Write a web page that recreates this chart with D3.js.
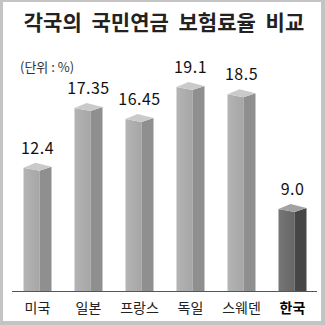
<!DOCTYPE html>
<html>
<head>
<meta charset="utf-8">
<script src="https://cdn.jsdelivr.net/npm/d3@7"></script>
<style>
  body { margin: 0; background: #fff; }
  svg text { font-family: "Noto Sans CJK KR", "Noto Sans", sans-serif; }
</style>
</head>
<body>
<script>
// 각국의 국민연금 보험료율 비교
var countries = ["미국", "일본", "프랑스", "독일", "스웨덴", "한국"];
var rates = [12.4, 17.35, 16.45, 19.1, 18.5, 9.0];
var rateLabels = ["12.4", "17.35", "16.45", "19.1", "18.5", "9.0"];
var highlight = "한국";

var width = 325, height = 325;
var baseY = 291;

var svg = d3.select("body").append("svg")
  .attr("width", width)
  .attr("height", height);

// frame
svg.append("rect")
  .attr("x", 0).attr("y", 0)
  .attr("width", width).attr("height", height)
  .style("fill", "#c4c4c4");
svg.append("rect")
  .attr("x", 3).attr("y", 2)
  .attr("width", width - 7).attr("height", height - 6)
  .style("fill", "#fff");

var x = d3.scaleBand()
  .domain(countries)
  .range([12, 318])
  .paddingInner(0)
  .paddingOuter(0);

var y = d3.scaleLinear()
  .domain([1.8, 20])
  .range([baseY, 71]);

var defs = svg.append("defs");
var gLight = defs.append("linearGradient").attr("id", "frontLight");
gLight.append("stop").attr("offset", "0%").attr("stop-color", "#b4b4b4");
gLight.append("stop").attr("offset", "100%").attr("stop-color", "#a6a6a6");
var gDark = defs.append("linearGradient").attr("id", "frontDark");
gDark.append("stop").attr("offset", "0%").attr("stop-color", "#767676");
gDark.append("stop").attr("offset", "100%").attr("stop-color", "#666666");

var frontW = 16, sideW = 12;

var bars = svg.append("g").selectAll("g")
  .data(countries)
  .enter()
  .append("g")
  .attr("class", "bar");

function barLeft(d) { return x(d) + x.bandwidth() / 2 - (frontW + sideW) / 2; }
function barTop(i) { return y(rates[i]); }

// front face
bars.append("path")
  .attr("d", function(d, i) {
    var a = barLeft(d), t = barTop(i);
    return "M" + a + "," + (t + 5) + "L" + (a + frontW) + "," + (t + 8) +
      "L" + (a + frontW) + "," + baseY + "L" + a + "," + baseY + "Z";
  })
  .style("fill", d => d === highlight ? "url(#frontDark)" : "url(#frontLight)");

// side face
bars.append("path")
  .attr("d", function(d, i) {
    var a = barLeft(d) + frontW, t = barTop(i);
    return "M" + a + "," + (t + 8) + "L" + (a + sideW) + "," + (t + 4) +
      "L" + (a + sideW) + "," + baseY + "L" + a + "," + baseY + "Z";
  })
  .style("fill", d => d === highlight ? "#464646" : "#8f8f8f");

// cap
bars.append("path")
  .attr("d", function(d, i) {
    var a = barLeft(d), t = barTop(i);
    return "M" + a + "," + (t + 5) + "L" + (a + 12) + "," + t +
      "L" + (a + frontW + sideW) + "," + (t + 4) + "L" + (a + frontW) + "," + (t + 8) + "Z";
  })
  .style("fill", d => d === highlight ? "#a2a2a2" : "#cacaca");

// value labels
bars.append("text")
  .attr("x", d => x(d) + x.bandwidth() / 2)
  .attr("y", (d, i) => barTop(i) - 9)
  .attr("text-anchor", "middle")
  .style("font-size", "16px")
  .style("letter-spacing", "0.5px")
  .style("fill", "#111")
  .text((d, i) => rateLabels[i]);

// axis line
svg.append("line")
  .attr("x1", 12).attr("x2", 317)
  .attr("y1", baseY + 0.5).attr("y2", baseY + 0.5)
  .style("stroke", "#555")
  .style("stroke-width", 1);

// category labels
svg.append("g").selectAll("text")
  .data(countries)
  .enter()
  .append("text")
  .attr("x", d => x(d) + x.bandwidth() / 2)
  .attr("y", 313)
  .attr("text-anchor", "middle")
  .style("font-size", "14px")
  .style("font-weight", d => d === highlight ? "bold" : "normal")
  .style("fill", d => d === highlight ? "#000" : "#222")
  .text(d => d);

// title
svg.append("text")
  .attr("x", 164)
  .attr("y", 30)
  .attr("text-anchor", "middle")
  .style("font-size", "21px")
  .style("word-spacing", "5px")
  .style("font-weight", "bold")
  .style("fill", "#222")
  .text("각국의 국민연금 보험료율 비교");

svg.append("text")
  .attr("x", 20)
  .attr("y", 72)
  .style("font-size", "13px")
  .style("fill", "#333")
  .text("(단위 : %)");
</script>
</body>
</html>
